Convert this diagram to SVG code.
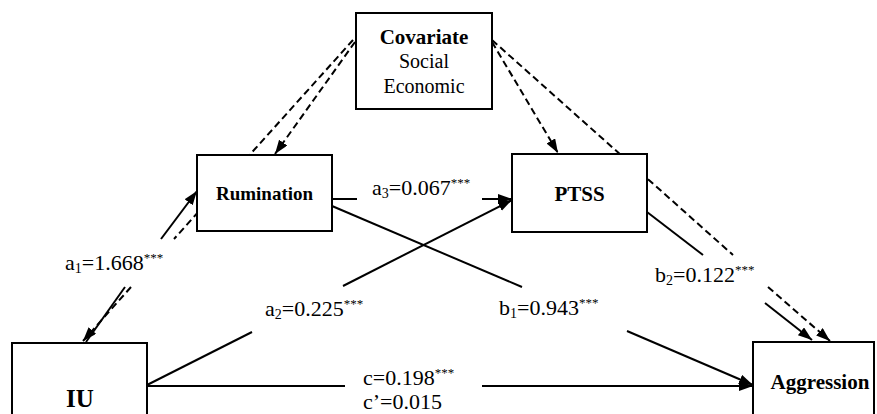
<svg xmlns="http://www.w3.org/2000/svg" width="877" height="414" viewBox="0 0 877 414">
<defs>
<marker id="ah" markerUnits="userSpaceOnUse" markerWidth="16" markerHeight="12" refX="14" refY="5" orient="auto">
<path d="M0,0 L14,5 L0,10 z" fill="#000" stroke="none"/>
</marker>
<style>
.box{fill:#fff;stroke:#000;stroke-width:2}
.ln{fill:none;stroke:#000;stroke-width:2}
.dl{fill:none;stroke:#000;stroke-width:2;stroke-dasharray:7 4}
.nb{font-family:"Liberation Serif","Times New Roman",serif;font-weight:bold;fill:#000;text-anchor:middle}
.nr{font-family:"Liberation Serif","Times New Roman",serif;fill:#000;text-anchor:middle}
.lb{font-family:"Liberation Serif","Times New Roman",serif;font-size:22px;fill:#000}
.sb{font-size:14px}
.sp{font-size:13px}
</style>
</defs>
<rect width="877" height="414" fill="#fff"/>
<g id="connectors">
<line class="dl" x1="353" y1="40" x2="174" y2="239"/>
<line class="dl" x1="131" y1="287" x2="83" y2="341" marker-end="url(#ah)"/>
<line class="dl" x1="355" y1="42" x2="275" y2="154" marker-end="url(#ah)"/>
<line class="dl" x1="492" y1="42" x2="558" y2="153" marker-end="url(#ah)"/>
<line class="dl" x1="492" y1="40" x2="733" y2="255"/>
<line class="dl" x1="768" y1="287" x2="830" y2="341" marker-end="url(#ah)"/>
<line class="ln" x1="86" y1="342" x2="125" y2="287"/>
<line class="ln" x1="161" y1="239" x2="197" y2="191" marker-end="url(#ah)"/>
<line class="ln" x1="147" y1="385" x2="252" y2="332"/>
<line class="ln" x1="343" y1="286" x2="512" y2="200" marker-end="url(#ah)"/>
<line class="ln" x1="332" y1="199" x2="357" y2="199"/>
<line class="ln" x1="482" y1="199" x2="512" y2="199" marker-end="url(#ah)"/>
<line class="ln" x1="332" y1="206" x2="522" y2="287"/>
<line class="ln" x1="627" y1="331" x2="753" y2="385" marker-end="url(#ah)"/>
<line class="ln" x1="647" y1="212" x2="703" y2="255"/>
<line class="ln" x1="765" y1="303" x2="812" y2="340" marker-end="url(#ah)"/>
<line class="ln" x1="147" y1="386" x2="345" y2="386"/>
<line class="ln" x1="482" y1="386" x2="753" y2="386" marker-end="url(#ah)"/>
</g>
<g id="covariate">
<rect class="box" x="356" y="13" width="136" height="96"/>
<text class="nb" x="424" y="44" font-size="21">Covariate</text>
<text class="nr" x="424" y="68" font-size="20">Social</text>
<text class="nr" x="424" y="93" font-size="20">Economic</text>
</g>
<g id="rumination">
<rect class="box" x="197" y="155" width="135" height="76"/>
<text class="nb" x="264.5" y="200" font-size="19">Rumination</text>
</g>
<g id="ptss">
<rect class="box" x="512" y="154" width="135" height="78"/>
<text class="nb" x="579.5" y="201" font-size="21">PTSS</text>
</g>
<g id="iu">
<rect class="box" x="12" y="343" width="135" height="90"/>
<text class="nb" x="80" y="407" font-size="25">IU</text>
</g>
<g id="aggression">
<rect class="box" x="753" y="342" width="121" height="90"/>
<text class="nb" x="820" y="389" font-size="21">Aggression</text>
</g>
<g id="labels">
<text class="lb" x="65" y="270">a<tspan class="sb" dy="3">1</tspan><tspan dy="-3">=1.668</tspan><tspan class="sp" dy="-8">***</tspan></text>
<text class="lb" x="265" y="316">a<tspan class="sb" dy="3">2</tspan><tspan dy="-3">=0.225</tspan><tspan class="sp" dy="-8">***</tspan></text>
<text class="lb" x="372" y="195">a<tspan class="sb" dy="3">3</tspan><tspan dy="-3">=0.067</tspan><tspan class="sp" dy="-8">***</tspan></text>
<text class="lb" x="499" y="315">b<tspan class="sb" dy="3">1</tspan><tspan dy="-3">=0.943</tspan><tspan class="sp" dy="-8">***</tspan></text>
<text class="lb" x="655" y="282">b<tspan class="sb" dy="3">2</tspan><tspan dy="-3">=0.122</tspan><tspan class="sp" dy="-8">***</tspan></text>
<text class="lb" x="363" y="385">c=0.198<tspan class="sp" dy="-8">***</tspan></text>
<text class="lb" x="363" y="409">c’=0.015</text>
</g>
</svg>
